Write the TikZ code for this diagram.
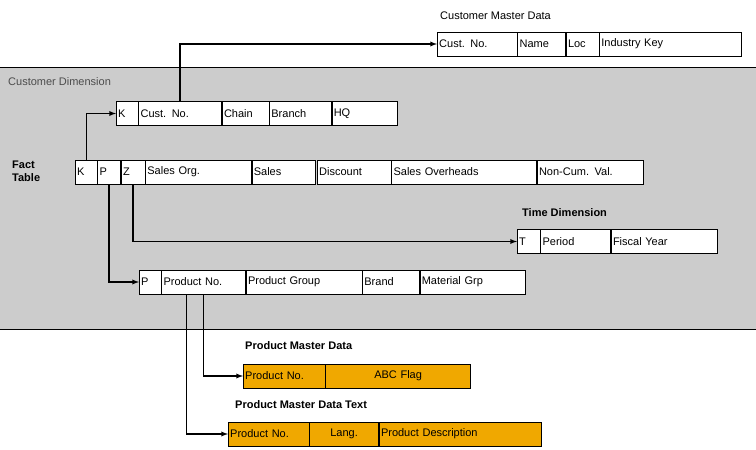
\documentclass[tikz,border=0pt]{standalone}
\usepackage{fontspec}
\setmainfont{Liberation Sans}
\usetikzlibrary{arrows, positioning}
\definecolor{bandgray}{RGB}{204,204,204}
\definecolor{mdorange}{RGB}{240,168,0}
\tikzset{
  cell/.style={draw, thin, fill=white, minimum height=24pt, inner xsep=2pt, inner ysep=0pt, align=left, font=\fontsize{11}{13}\selectfont},
  ocell/.style={cell, fill=mdorange},
  title/.style={font=\fontsize{11}{13}\selectfont\bfseries, anchor=west, inner sep=0pt},
  conn/.style={line width=1.3pt, -latex}
}
\begin{document}
\begin{tikzpicture}[x=1pt,y=-1pt]
		\useasboundingbox (0,0) rectangle (756,450);
		\fill[bandgray] (0,67) rectangle (756,329);
		\draw[thin] (0,67) -- (756,67);
		\draw[thin] (0,329) -- (756,329);
		\node[anchor=west, inner sep=0pt, text=black!70, font=\fontsize{11}{13}\selectfont] (cdim) at (8,82) {Customer Dimension};
		
		% customer master data
		\node[anchor=west, inner sep=0pt, font=\fontsize{11}{13}\selectfont] (cmd) at (440,16) {Customer Master Data};
		\node[cell, text width=76pt, anchor=west] (mCust) at (437,44) {Cust. No.};
		\node[cell, text width=44pt, right=0pt of mCust] (mName) {Name};
		\node[cell, text width=29pt, right=0pt of mName] (mLoc) {Loc};
		\node[cell, text width=138pt, right=0pt of mLoc] (mInd) {Industry Key};
		
		% customer dimension
		\node[cell, text width=18pt, anchor=west] (cK) at (116,113.5) {K};
		\node[cell, text width=79pt, right=0pt of cK] (cCust) {Cust. No.};
		\node[cell, text width=43pt, right=0pt of cCust] (cChain) {Chain};
		\node[cell, text width=58pt, right=0pt of cChain] (cBranch) {Branch};
		\node[cell, text width=61pt, right=0pt of cBranch] (cHQ) {HQ};
		
		% fact table
		\node[title, align=left] (ft) at (12,171) {Fact\\Table};
		\node[cell, text width=18pt, anchor=west] (fK) at (75,172) {K};
		\node[cell, text width=19pt, right=0pt of fK] (fP) {P};
		\node[cell, text width=20pt, right=0pt of fP] (fZ) {Z};
		\node[cell, text width=102pt, right=0pt of fZ] (fOrg) {Sales Org.};
		\node[cell, text width=59pt, right=0pt of fOrg] (fSales) {Sales};
		\node[cell, text width=70pt, right=2pt of fSales] (fDisc) {Discount};
		\node[cell, text width=141pt, right=0pt of fDisc] (fOver) {Sales Overheads};
		\node[cell, text width=102pt, right=0pt of fOver] (fNon) {Non-Cum. Val.};
		
		% time dimension
		\node[title] (td) at (522,213) {Time Dimension};
		\node[cell, text width=19pt, anchor=west] (tT) at (517,241.5) {T};
		\node[cell, text width=66pt, right=0pt of tT] (tPer) {Period};
		\node[cell, text width=102pt, right=0pt of tPer] (tFis) {Fiscal Year};
		
		% product dimension
		\node[cell, text width=18pt, anchor=west] (pP) at (139,282) {P};
		\node[cell, text width=80pt, right=0pt of pP] (pNo) {Product No.};
		\node[cell, text width=112pt, right=0pt of pNo] (pGrp) {Product Group};
		\node[cell, text width=53pt, right=0pt of pGrp] (pBrand) {Brand};
		\node[cell, text width=101pt, right=0pt of pBrand] (pMat) {Material Grp};
		
		% product master data
		\node[title] (pmd) at (245,346) {Product Master Data};
		\node[ocell, text width=78pt, anchor=west] (pmNo) at (243,376) {Product No.};
		\node[ocell, text width=141pt, align=center, right=0pt of pmNo] (pmABC) {ABC Flag};
		
		\node[title] (pmt) at (235,405) {Product Master Data Text};
		\node[ocell, text width=77pt, anchor=west] (ptNo) at (228,434) {Product No.};
		\node[ocell, text width=65pt, align=center, right=0pt of ptNo] (ptLang) {Lang.};
		\node[ocell, text width=158pt, right=0pt of ptLang] (ptDesc) {Product Description};
		
		\draw[conn] (fK.north) |- (cK.west);
		\draw[conn] (cCust.north) |- (mCust.west);
		\draw[conn] (fZ.south) |- (tT.west);
		\draw[conn] (fP.south) |- (pP.west);
		\draw[conn] (pNo.south) |- (pmNo.west);
		\draw[conn] ([xshift=-17pt]pNo.south) |- (ptNo.west);

	\end{tikzpicture}
\end{document}
